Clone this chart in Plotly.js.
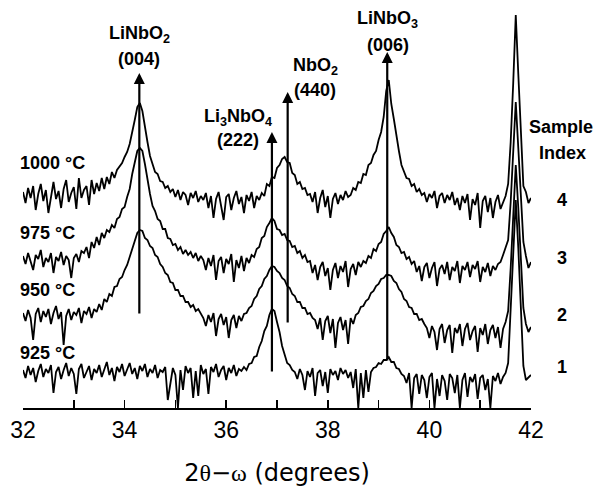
<!DOCTYPE html>
<html>
<head>
<meta charset="utf-8">
<script src="https://cdn.plot.ly/plotly-3.0.1.min.js"></script>
<style>html,body{margin:0;padding:0;background:#fff;}#chart{width:597px;height:487px;}</style>
</head>
<body>
<div id="chart"></div>
<script>
// 2theta-omega scan positions (degrees)
const twoTheta = [
32.00,32.05,32.10,32.15,32.20,32.25,32.30,32.35,32.40,32.45,32.50,32.55,32.60,32.65,32.70,32.75,32.80,32.85,32.90,32.95,
33.00,33.05,33.10,33.15,33.20,33.25,33.30,33.35,33.40,33.45,33.50,33.55,33.60,33.65,33.70,33.75,33.80,33.85,33.90,33.95,
34.00,34.05,34.10,34.15,34.20,34.25,34.30,34.35,34.40,34.45,34.50,34.55,34.60,34.65,34.70,34.75,34.80,34.85,34.90,34.95,
35.00,35.05,35.10,35.15,35.20,35.25,35.30,35.35,35.40,35.45,35.50,35.55,35.60,35.65,35.70,35.75,35.80,35.85,35.90,35.95,
36.00,36.05,36.10,36.15,36.20,36.25,36.30,36.35,36.40,36.45,36.50,36.55,36.60,36.65,36.70,36.75,36.80,36.85,36.90,36.95,
37.00,37.05,37.10,37.15,37.20,37.25,37.30,37.35,37.40,37.45,37.50,37.55,37.60,37.65,37.70,37.75,37.80,37.85,37.90,37.95,
38.00,38.05,38.10,38.15,38.20,38.25,38.30,38.35,38.40,38.45,38.50,38.55,38.60,38.65,38.70,38.75,38.80,38.85,38.90,38.95,
39.00,39.05,39.10,39.15,39.20,39.25,39.30,39.35,39.40,39.45,39.50,39.55,39.60,39.65,39.70,39.75,39.80,39.85,39.90,39.95,
40.00,40.05,40.10,40.15,40.20,40.25,40.30,40.35,40.40,40.45,40.50,40.55,40.60,40.65,40.70,40.75,40.80,40.85,40.90,40.95,
41.00,41.05,41.10,41.15,41.20,41.25,41.30,41.35,41.40,41.45,41.50,41.55,41.60,41.65,41.70,41.75,41.80,41.85,41.90,41.95,
42.00];

// Stacked intensities (arbitrary units, offset included)
const int1000 = [
216,205,220,210,222,198,214,224,207,218,195,212,226,209,217,200,219,228,206,215,
221,199,230,210,218,222,203,228,214,225,217,230,219,231,224,236,230,238,242,245,
251,256,264,275,288,301,305,297,280,266,252,245,236,234,227,226,220,222,216,219,
211,218,208,216,213,203,215,210,217,206,212,208,215,200,212,190,209,216,203,188,
211,214,198,210,217,204,211,195,213,207,216,200,212,208,215,212,224,222,231,230,
240,243,249,251,246,245,235,233,224,226,219,220,213,214,206,216,195,210,218,201,
212,190,209,215,204,213,208,217,211,213,220,218,226,225,234,233,243,245,253,257,
268,276,291,317,328,304,289,271,257,243,237,230,229,222,224,216,219,213,215,206,
214,210,217,200,212,215,205,213,208,216,203,210,198,212,205,214,188,209,203,215,
180,207,212,196,210,190,206,213,199,205,212,224,266,325,393,334,273,222,216,205,
210];
const int975 = [
152,144,155,147,138,153,149,158,141,150,146,155,135,151,147,156,143,152,148,130,
150,154,146,157,155,161,150,166,160,171,163,175,170,178,176,183,180,189,191,199,
201,211,219,234,247,257,260,257,244,227,214,202,197,189,187,179,179,170,169,163,
164,158,161,154,158,153,156,150,155,147,152,148,138,150,142,153,128,147,151,135,
149,144,154,126,148,140,152,137,150,145,153,151,159,161,170,172,181,185,190,187,
179,178,173,174,168,167,161,162,155,157,150,153,146,147,135,143,128,141,146,132,
140,118,138,145,130,142,136,147,121,139,144,133,146,141,147,145,152,150,159,157,
164,166,174,177,181,175,171,163,161,155,156,149,151,144,147,136,142,127,141,145,
130,140,146,122,139,143,134,146,128,141,137,147,125,142,138,146,131,143,139,147,
126,141,136,145,132,142,138,144,146,153,160,168,206,252,306,260,212,166,152,140,
146];
const int950 = [
95,87,98,90,68,94,100,86,97,91,99,84,95,102,89,96,63,92,99,88,
96,93,100,85,97,94,101,90,99,96,104,98,109,106,114,112,121,122,129,131,
138,143,151,158,167,175,178,177,170,168,162,160,153,151,144,141,135,133,126,125,
118,118,112,112,106,106,101,103,97,99,94,90,82,93,86,95,72,89,94,83,
91,70,88,93,80,92,87,94,95,100,102,109,112,119,122,129,132,138,142,141,
137,135,130,128,122,120,114,112,106,106,100,100,94,95,90,88,79,90,68,87,
92,75,89,60,85,91,78,88,64,90,84,93,95,101,102,107,109,115,117,122,
124,129,130,133,133,132,127,125,119,116,109,107,101,100,94,94,88,89,84,80,
70,82,76,58,79,84,65,78,83,55,80,75,84,62,79,85,68,77,82,56,
80,73,84,64,78,83,70,81,60,79,86,97,140,195,243,200,150,100,84,76,
81];
const int925 = [
38,30,42,33,40,26,37,44,31,39,35,43,15,36,41,29,38,45,32,40,
34,14,39,44,30,37,42,28,39,35,43,31,38,46,33,40,27,41,36,44,
32,39,45,34,40,29,42,37,44,31,39,35,43,30,38,36,41,8,25,40,
33,0,38,18,42,35,40,10,37,12,43,34,39,14,41,36,44,31,38,42,
28,40,35,43,32,39,37,41,38,44,45,51,52,61,67,77,82,93,99,97,
86,76,62,54,45,43,38,36,29,39,33,18,37,31,40,12,35,38,22,36,
15,39,33,37,28,40,34,38,30,36,20,39,0,35,10,38,16,36,40,41,
45,44,48,48,51,46,46,40,39,34,32,25,35,0,30,34,14,33,28,10,
31,35,0,29,12,33,27,8,34,30,15,33,0,28,35,11,31,26,34,9,
30,33,18,29,0,32,27,35,24,31,35,45,100,160,208,160,95,42,28,31,
33];

const temperatures = ['925 °C', '950 °C', '975 °C', '1000 °C'];
const sampleIndex = ['1', '2', '3', '4'];
const seriesValues = [int925, int950, int975, int1000];
// level of each pattern's label (same a.u. as the intensities)
const labelLevels = [55, 118, 175, 245];
const indexLevels = [41, 93, 150, 208];

// reflection markers
const peakNames = ['LiNbO<sub>2</sub>', 'Li<sub>3</sub>NbO<sub>4</sub>', 'NbO<sub>2</sub>', 'LiNbO<sub>3</sub>'];
const peakHkl = ['(004)', '(222)', '(440)', '(006)'];
const peakPos = [34.29, 36.90, 37.21, 39.17];
const arrowTop = [335, 276, 316, 356];
const arrowBottom = [93, 35, 84, 46];

const yMax = 408;

const traces = seriesValues.map((vals, k) => ({
  x: twoTheta, y: vals, type: 'scatter', mode: 'lines',
  line: {color: '#000', width: 1.8}, name: temperatures[k], hoverinfo: 'skip'
}));

const boldFont = {family: 'Liberation Sans, Arial, sans-serif', size: 18, color: '#000'};
const annotations = [];
// reflection arrows
peakPos.forEach((p, k) => {
  annotations.push({x: p, y: arrowTop[k], ax: p, ay: arrowBottom[k], xref: 'x', yref: 'y', axref: 'x', ayref: 'y',
    text: '', showarrow: true, arrowhead: 2, arrowsize: 1, arrowwidth: 2.2, arrowcolor: '#000', standoff: 0, startstandoff: 0});
});
// peak labels
const nameXY = [[34.29, 374], [36.24, 291], [37.75, 342], [39.18, 389]];
const hklXY = [[34.29, 349], [36.24, 268], [37.75, 318], [39.18, 363]];
peakNames.forEach((t, k) => {
  annotations.push({x: nameXY[k][0], y: nameXY[k][1], xref: 'x', yref: 'y', text: '<b>' + t + '</b>', showarrow: false,
    xanchor: 'center', yanchor: 'middle', font: boldFont});
  annotations.push({x: hklXY[k][0], y: hklXY[k][1], xref: 'x', yref: 'y', text: '<b>' + peakHkl[k] + '</b>', showarrow: false,
    xanchor: 'center', yanchor: 'middle', font: boldFont});
});
// temperature labels (paper coordinates, left of the plot area)
temperatures.forEach((t, k) => {
  annotations.push({x: -0.0093, y: labelLevels[k] / yMax, xref: 'paper', yref: 'paper', text: '<b>' + t + '</b>', showarrow: false,
    xanchor: 'left', yanchor: 'middle', font: boldFont});
});
// sample index labels (right of the plot area)
sampleIndex.forEach((t, k) => {
  annotations.push({x: 1.062, y: indexLevels[k] / yMax, xref: 'paper', yref: 'paper', text: '<b>' + t + '</b>', showarrow: false,
    xanchor: 'center', yanchor: 'middle', font: boldFont});
});
annotations.push({x: 1.06, y: 281 / yMax, xref: 'paper', yref: 'paper', text: '<b>Sample</b>', showarrow: false,
  xanchor: 'center', yanchor: 'middle', font: boldFont});
annotations.push({x: 1.062, y: 255 / yMax, xref: 'paper', yref: 'paper', text: '<b>Index</b>', showarrow: false,
  xanchor: 'center', yanchor: 'middle', font: boldFont});

const layout = {
  width: 597, height: 487,
  margin: {l: 23, r: 66, t: 0, b: 79, pad: 0},
  paper_bgcolor: '#fff', plot_bgcolor: '#fff',
  showlegend: false,
  xaxis: {
    range: [32, 42], tick0: 32, dtick: 2,
    ticks: 'inside', ticklen: 8, tickwidth: 1.5, tickcolor: '#000',
    minor: {tick0: 32, dtick: 1, ticks: 'inside', ticklen: 8, tickwidth: 1.5, tickcolor: '#000', showgrid: false},
    showline: true, linewidth: 2, linecolor: '#000', mirror: false,
    showgrid: false, zeroline: false,
    tickfont: {family: 'Liberation Sans, Arial, sans-serif', size: 23, color: '#000'},
    title: {text: '2<span style="font-family:Liberation Serif">θ</span>−<span style="font-family:Liberation Serif">ω</span> (degrees)',
      font: {family: 'DejaVu Sans, sans-serif', size: 24, color: '#000'}, standoff: 23}
  },
  yaxis: {range: [0, yMax], visible: false, fixedrange: true},
  annotations: annotations
};

Plotly.newPlot('chart', traces, layout, {staticPlot: true, displayModeBar: false});
</script>
</body>
</html>
